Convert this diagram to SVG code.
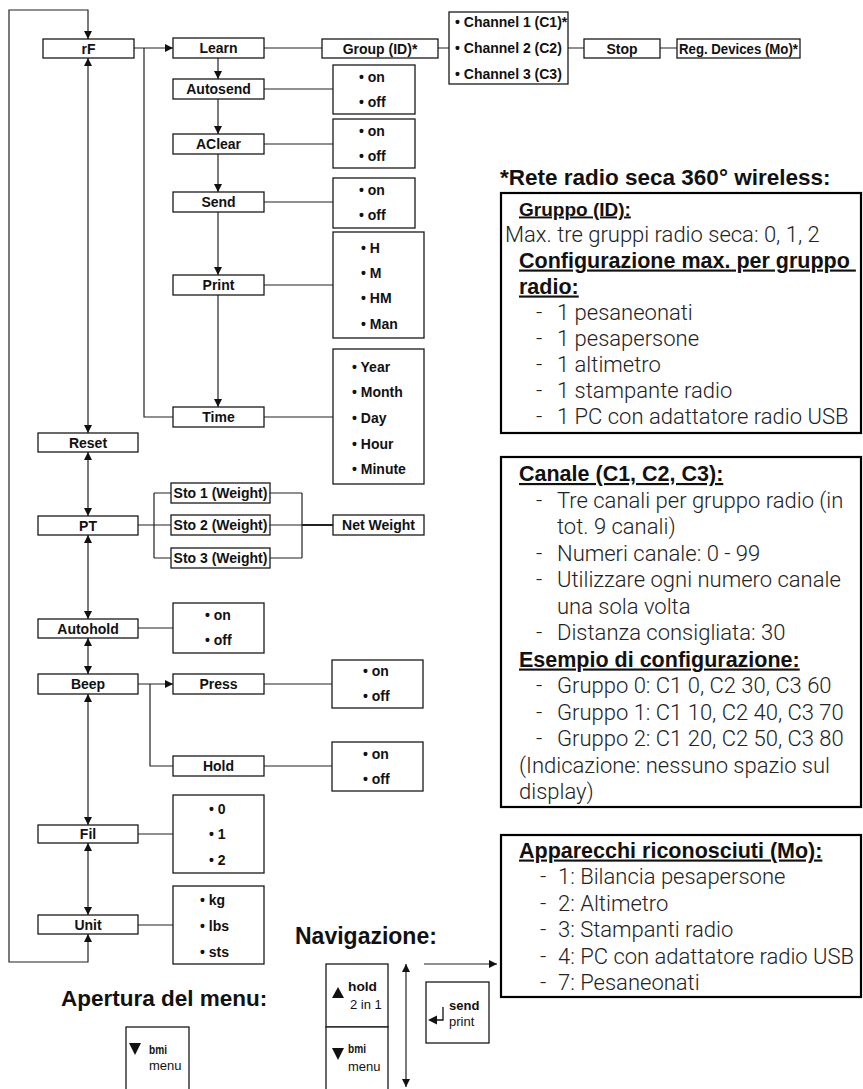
<svg xmlns="http://www.w3.org/2000/svg" width="863" height="1089" viewBox="0 0 863 1089">
<style>
.bx{fill:#fff;stroke:#1a1a1a;stroke-width:1.3}
.pn{fill:none;stroke:#000;stroke-width:2.2}
.ln{fill:none;stroke:#222;stroke-width:1.2}
.ar{marker-end:url(#ah)}
.da{marker-start:url(#ah);marker-end:url(#ah)}
text{font-family:"Liberation Sans",Arial,sans-serif;fill:#111}
.l{font-size:14px;font-weight:bold;text-anchor:middle}
.o{font-size:14px;font-weight:bold}
.bd{font-family:Roboto,"Liberation Sans",Arial,sans-serif;font-weight:300;font-size:22px;fill:#222}
.hd{font-size:21.5px;font-weight:bold;text-decoration:underline;white-space:pre}
.tt{font-size:22.5px;font-weight:bold}
.k{font-size:13px}
.kb{font-size:13px;font-weight:bold}
</style>
<defs>
<marker id="ah" viewBox="0 0 8 8" refX="8" refY="4" markerWidth="8" markerHeight="8" markerUnits="userSpaceOnUse" orient="auto-start-reverse"><path d="M0,0 L8,4 L0,8 z" fill="#111"/></marker>
</defs>

<g id="connectors">
<path class="ln da" d="M88,934 V962 H9 V10 H88 V39"/>
<path class="ln da" d="M88,58 V433"/>
<path class="ln da" d="M88,452 V516"/>
<path class="ln da" d="M88,535 V619"/>
<path class="ln da" d="M88,638 V674"/>
<path class="ln da" d="M88,694 V825"/>
<path class="ln da" d="M88,843 V915"/>
<path class="ln ar" d="M134,48 H173"/>
<path class="ln" d="M144,48 V417 H173"/>
<path class="ln ar" d="M218,58 V79"/>
<path class="ln ar" d="M218,99 V134"/>
<path class="ln ar" d="M218,154 V192"/>
<path class="ln ar" d="M218,212 V275"/>
<path class="ln ar" d="M218,295 V407"/>
<path class="ln" d="M264,48 H322 M438,48 H449 M568,48 H584 M660,48 H677"/>
<path class="ln" d="M264,89 H333 M264,144 H333 M264,202 H333 M264,285 H333 M264,417 H333"/>
<path class="ln" d="M138,525 H171 M154,493 V558 M154,493 H171 M154,558 H171"/>
<path class="ln" d="M270,493 H302 M270,525 H302 M270,558 H302 M302,493 V558"/>
<path class="ln" style="stroke-width:2" d="M302,525 H333"/>
<path class="ln" d="M138,628 H173"/>
<path class="ln ar" d="M138,684 H173"/>
<path class="ln" d="M150,684 V766 H173"/>
<path class="ln" d="M264,684 H332 M264,766 H332"/>
<path class="ln" d="M138,834 H173 M138,925 H173"/>
<path class="ln da" d="M406,964 V1087"/>
<path class="ln ar" d="M424,964 H497"/>
</g>

<g id="rF"><rect class="bx" x="43" y="39" width="91" height="19"/><text class="l" x="88.5" y="53.5">rF</text></g>
<g id="Reset"><rect class="bx" x="38" y="433" width="100" height="19"/><text class="l" x="88" y="447.5">Reset</text></g>
<g id="PT"><rect class="bx" x="38" y="516" width="100" height="19"/><text class="l" x="88" y="530.5">PT</text></g>
<g id="Autohold"><rect class="bx" x="38" y="619" width="100" height="19"/><text class="l" x="88" y="633.5">Autohold</text></g>
<g id="Beep"><rect class="bx" x="38" y="674" width="100" height="20"/><text class="l" x="88" y="689">Beep</text></g>
<g id="Fil"><rect class="bx" x="38" y="825" width="100" height="18"/><text class="l" x="88" y="839">Fil</text></g>
<g id="Unit"><rect class="bx" x="38" y="915" width="100" height="19"/><text class="l" x="88" y="929.5">Unit</text></g>

<g id="Learn"><rect class="bx" x="173" y="38" width="91" height="20"/><text class="l" x="218.5" y="53">Learn</text></g>
<g id="Autosend"><rect class="bx" x="173" y="79" width="91" height="20"/><text class="l" x="218.5" y="94">Autosend</text></g>
<g id="AClear"><rect class="bx" x="173" y="134" width="91" height="20"/><text class="l" x="218.5" y="149">AClear</text></g>
<g id="Send"><rect class="bx" x="173" y="192" width="91" height="20"/><text class="l" x="218.5" y="207">Send</text></g>
<g id="Print"><rect class="bx" x="173" y="275" width="91" height="20"/><text class="l" x="218.5" y="290">Print</text></g>
<g id="Time"><rect class="bx" x="173" y="407" width="91" height="20"/><text class="l" x="218.5" y="422">Time</text></g>
<g id="Press"><rect class="bx" x="173" y="674" width="91" height="20"/><text class="l" x="218.5" y="689">Press</text></g>
<g id="Hold"><rect class="bx" x="173" y="756" width="91" height="20"/><text class="l" x="218.5" y="771">Hold</text></g>

<g id="Group"><rect class="bx" x="322" y="39" width="116" height="19"/><text class="l" x="380" y="53.5">Group (ID)*</text></g>
<g id="Channels"><rect class="bx" x="449" y="12" width="119" height="72"/>
<text class="o" x="455" y="27">• Channel 1 (C1)*</text><text class="o" x="455" y="53">• Channel 2 (C2)</text><text class="o" x="455" y="79">• Channel 3 (C3)</text></g>
<g id="Stop"><rect class="bx" x="584" y="39" width="76" height="19"/><text class="l" x="622" y="53.5">Stop</text></g>
<g id="RegDevices"><rect class="bx" x="677" y="39" width="123" height="19"/><text class="l" x="738.5" y="53.5" textLength="119" lengthAdjust="spacingAndGlyphs">Reg. Devices (Mo)*</text></g>

<g id="AutosendOpt"><rect class="bx" x="333" y="65" width="82" height="49"/><text class="o" x="359" y="81.5">• on</text><text class="o" x="359" y="106.5">• off</text></g>
<g id="AClearOpt"><rect class="bx" x="333" y="119" width="82" height="49"/><text class="o" x="359" y="135.5">• on</text><text class="o" x="359" y="160.5">• off</text></g>
<g id="SendOpt"><rect class="bx" x="333" y="178" width="82" height="50"/><text class="o" x="359" y="195">• on</text><text class="o" x="359" y="220">• off</text></g>
<g id="PrintOpt"><rect class="bx" x="333" y="232" width="91" height="106"/><text class="o" x="361" y="253">• H</text><text class="o" x="361" y="278">• M</text><text class="o" x="361" y="303">• HM</text><text class="o" x="361" y="329">• Man</text></g>
<g id="TimeOpt"><rect class="bx" x="333" y="349" width="91" height="135"/><text class="o" x="352" y="372">• Year</text><text class="o" x="352" y="397">• Month</text><text class="o" x="352" y="423">• Day</text><text class="o" x="352" y="449">• Hour</text><text class="o" x="352" y="474">• Minute</text></g>

<g id="Sto1"><rect class="bx" x="171" y="483" width="99" height="20"/><text class="l" x="220.5" y="498">Sto 1 (Weight)</text></g>
<g id="Sto2"><rect class="bx" x="171" y="515" width="99" height="20"/><text class="l" x="220.5" y="530">Sto 2 (Weight)</text></g>
<g id="Sto3"><rect class="bx" x="171" y="548" width="99" height="20"/><text class="l" x="220.5" y="563">Sto 3 (Weight)</text></g>
<g id="NetWeight"><rect class="bx" x="333" y="515" width="91" height="20"/><text class="l" x="378.5" y="530">Net Weight</text></g>

<g id="AutoholdOpt"><rect class="bx" x="173" y="603" width="91" height="50"/><text class="o" x="205" y="620">• on</text><text class="o" x="205" y="645">• off</text></g>
<g id="PressOpt"><rect class="bx" x="332" y="660" width="91" height="48"/><text class="o" x="363" y="676">• on</text><text class="o" x="363" y="701">• off</text></g>
<g id="HoldOpt"><rect class="bx" x="332" y="742" width="91" height="49"/><text class="o" x="363" y="758.5">• on</text><text class="o" x="363" y="783.5">• off</text></g>
<g id="FilOpt"><rect class="bx" x="173" y="795" width="91" height="78"/><text class="o" x="209" y="814">• 0</text><text class="o" x="209" y="839">• 1</text><text class="o" x="209" y="865">• 2</text></g>
<g id="UnitOpt"><rect class="bx" x="173" y="886" width="91" height="78"/><text class="o" x="200" y="905">• kg</text><text class="o" x="200" y="931">• lbs</text><text class="o" x="200" y="957">• sts</text></g>

<g id="NoteRete">
<text class="tt" x="500" y="185">*Rete radio seca 360° wireless:</text>
<rect class="pn" x="501" y="193" width="360" height="240"/>
<text class="hd" style="font-size:19px" x="519" y="215.5">Gruppo (ID):</text>
<text class="bd" x="505" y="241.5">Max. tre gruppi radio seca: 0, 1, 2</text>
<text class="hd" x="519" y="267.5">Configurazione max. per gruppo </text>
<text class="hd" x="519" y="293.5">radio:</text>
<text class="bd" y="319.5"><tspan x="536">- </tspan><tspan x="557">1 pesaneonati</tspan></text>
<text class="bd" y="345.5"><tspan x="536">- </tspan><tspan x="557">1 pesapersone</tspan></text>
<text class="bd" y="371.5"><tspan x="536">- </tspan><tspan x="557">1 altimetro</tspan></text>
<text class="bd" y="397.5"><tspan x="536">- </tspan><tspan x="557">1 stampante radio</tspan></text>
<text class="bd" y="423.5"><tspan x="536">- </tspan><tspan x="557">1 PC con adattatore radio USB</tspan></text>
</g>

<g id="NoteCanale">
<rect class="pn" x="501" y="457" width="360" height="350"/>
<text class="hd" x="519" y="481">Canale (C1, C2, C3):</text>
<text class="bd" y="507.5"><tspan x="536">- </tspan><tspan x="557">Tre canali per gruppo radio (in</tspan></text>
<text class="bd" x="557" y="534">tot. 9 canali)</text>
<text class="bd" y="560.5"><tspan x="536">- </tspan><tspan x="557">Numeri canale: 0 - 99</tspan></text>
<text class="bd" y="587"><tspan x="536">- </tspan><tspan x="557">Utilizzare ogni numero canale</tspan></text>
<text class="bd" x="557" y="613.5">una sola volta</text>
<text class="bd" y="640"><tspan x="536">- </tspan><tspan x="557">Distanza consigliata: 30</tspan></text>
<text class="hd" x="519" y="666.5">Esempio di configurazione:</text>
<text class="bd" y="693"><tspan x="536">- </tspan><tspan x="557">Gruppo 0: C1 0, C2 30, C3 60</tspan></text>
<text class="bd" y="719.5"><tspan x="536">- </tspan><tspan x="557">Gruppo 1: C1 10, C2 40, C3 70</tspan></text>
<text class="bd" y="746"><tspan x="536">- </tspan><tspan x="557">Gruppo 2: C1 20, C2 50, C3 80</tspan></text>
<text class="bd" x="519" y="772.5">(Indicazione: nessuno spazio sul</text>
<text class="bd" x="519" y="799">display)</text>
</g>

<g id="NoteApparecchi">
<rect class="pn" x="501" y="835" width="360" height="162"/>
<text class="hd" x="519" y="857.5">Apparecchi riconosciuti (Mo):</text>
<text class="bd" y="884"><tspan x="540">- </tspan><tspan x="558">1: Bilancia pesapersone</tspan></text>
<text class="bd" y="910.5"><tspan x="540">- </tspan><tspan x="558">2: Altimetro</tspan></text>
<text class="bd" y="937"><tspan x="540">- </tspan><tspan x="558">3: Stampanti radio</tspan></text>
<text class="bd" y="963.5"><tspan x="540">- </tspan><tspan x="558">4: PC con adattatore radio USB</tspan></text>
<text class="bd" y="990"><tspan x="540">- </tspan><tspan x="558">7: Pesaneonati</tspan></text>
</g>

<g id="Apertura">
<text class="tt" x="61" y="1006">Apertura del menu:</text>
<rect class="bx" x="126" y="1027" width="63" height="66"/>
<path d="M129,1043 H141 L135,1055 z" fill="#111"/>
<text class="kb" x="149" y="1054" textLength="18" lengthAdjust="spacingAndGlyphs">bmi</text>
<text class="k" x="149" y="1070">menu</text>
</g>

<g id="Navigazione">
<text class="tt" style="font-size:23px" x="295" y="944">Navigazione:</text>
<rect class="bx" x="326" y="964" width="62" height="63"/>
<path d="M332,998 H344 L338,987 z" fill="#111"/>
<text class="kb" x="348" y="991" textLength="29" lengthAdjust="spacingAndGlyphs">hold</text>
<text class="k" x="350" y="1009">2 in 1</text>
<rect class="bx" x="326" y="1027" width="62" height="66"/>
<path d="M332,1048 H344 L338,1060 z" fill="#111"/>
<text class="kb" x="348" y="1053" textLength="18" lengthAdjust="spacingAndGlyphs">bmi</text>
<text class="k" x="348" y="1071">menu</text>
<rect class="bx" x="426" y="982" width="63" height="61"/>
<path d="M443,1007 V1020 H436" fill="none" stroke="#111" stroke-width="1.3"/>
<path d="M428,1020 L437,1015.5 L437,1024.5 z" fill="#111"/>
<text class="kb" x="449" y="1010">send</text>
<text class="k" x="449" y="1026">print</text>
</g>
</svg>
